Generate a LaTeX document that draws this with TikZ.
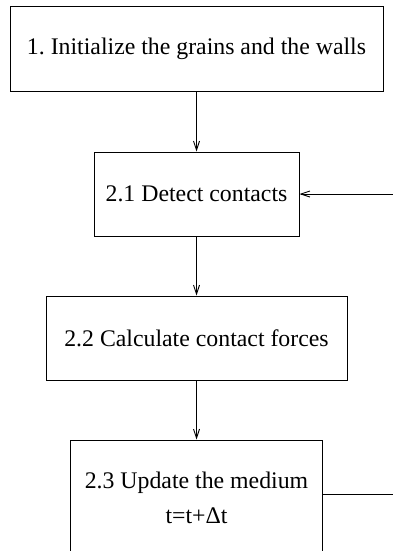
\documentclass[tikz,border=0pt]{standalone}
\usepackage{fontspec}
\setmainfont{Liberation Serif}
\usetikzlibrary{arrows.meta}
\frenchspacing
\tikzset{
  stepbox/.style={draw, line width=1pt, minimum height=84pt, inner sep=0pt,
    font=\fontsize{23.8}{35}\selectfont, align=center},
  flow/.style={draw, line width=0.9pt, -{Straight Barb[length=9pt,width=6pt,line width=0.9pt]}},
  plain/.style={draw, line width=0.9pt}
}
\begin{document}
\begin{tikzpicture}[x=1pt,y=-1pt]
  \useasboundingbox (0,0) rectangle (393,551);
  \clip (0,0) rectangle (393,551);
  % main steps
  \node[stepbox, minimum width=373pt] (init) at (196.5,49) {1. Initialize the grains and the walls};
  \node[stepbox, minimum width=205pt] (detect) at (196.5,194) {2.1 Detect contacts};
  \node[stepbox, minimum width=301pt] (forces) at (196.5,338) {2.2 Calculate contact forces};
  \node[stepbox, minimum width=252pt, minimum height=116pt] (update) at (196.5,498)
    {2.3 Update the medium\\t=t+Δt};
  % loop ends leaving the picture on the right
  \coordinate (loopin) at (393,194);
  \coordinate (loopout) at (393,494);
  % connectors
  \draw[flow] (init) -- (detect);
  \draw[flow] (detect) -- (forces);
  \draw[flow] (forces) -- (update);
  \draw[flow] (loopin) -- (detect.east);
  \draw[plain] (update.east |- loopout) -- (loopout);
\end{tikzpicture}
\end{document}
